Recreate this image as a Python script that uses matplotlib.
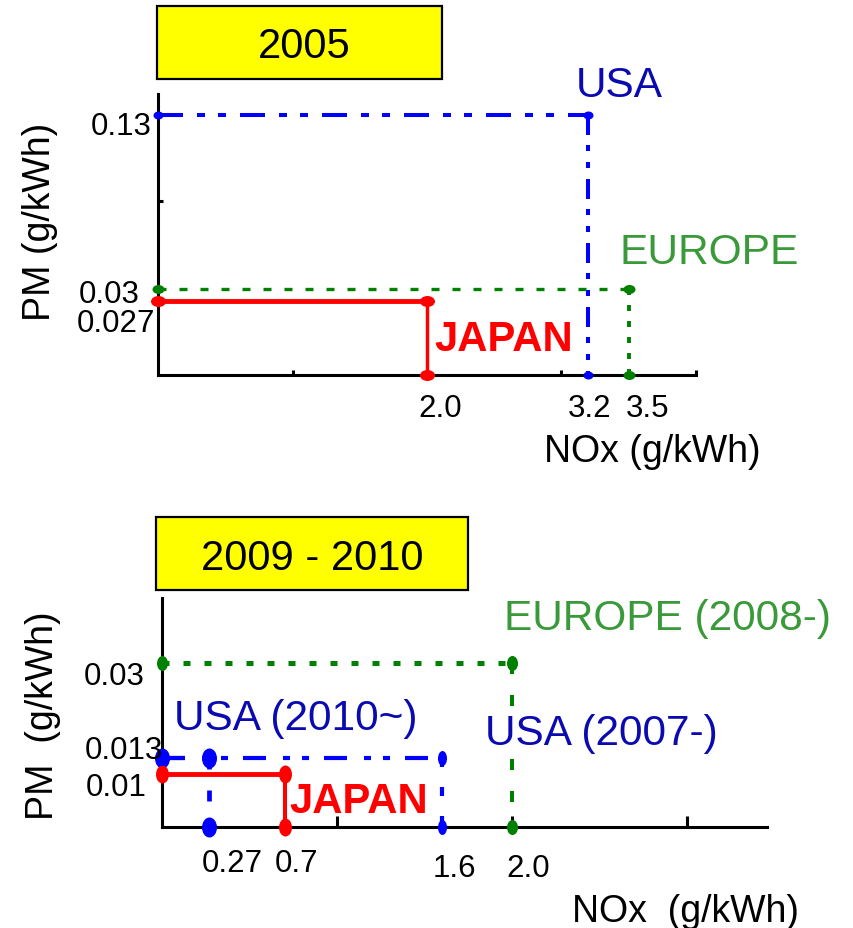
import matplotlib
matplotlib.use("Agg")
import matplotlib.pyplot as plt
from matplotlib.path import Path
from matplotlib.transforms import Affine2D
from matplotlib.patches import Rectangle
from matplotlib.ticker import NullLocator

plt.rcParams["font.family"] = ["Liberation Sans", "DejaVu Sans"]
plt.rcParams["lines.scale_dashes"] = False

# ---------------- emission limits (g/kWh) ----------------
# 2005 regulations
regions_2005 = ["JAPAN", "USA", "EUROPE"]
nox_2005 = [2.0, 3.2, 3.5]
pm_2005 = [0.027, 0.13, 0.03]
nox_labels_2005 = ["2.0", "3.2", "3.5"]
pm_labels_2005 = ["0.027", "0.13", "0.03"]

# 2009 - 2010 regulations
regions_2010 = ["USA (2010~)", "JAPAN", "USA (2007-)", "EUROPE (2008-)"]
nox_2010 = [0.27, 0.7, 1.6, 2.0]
pm_2010 = [0.013, 0.01, 0.013, 0.03]
nox_labels_2010 = ["0.27", "0.7", "1.6", "2.0"]
pm_labels_2010 = ["0.013", "0.01", None, "0.03"]

W, H, DPI = 854, 929, 100
fig = plt.figure(figsize=(W / DPI, H / DPI), dpi=DPI)


def fx(x):
    return x / W


def fy(y):
    return 1 - y / H


def ftext(x, y, s, **kw):
    return fig.text(fx(x), fy(y), s, **kw)


def ellipse(w, h):
    s = max(w, h)
    return Path.unit_circle().transformed(Affine2D().scale(w / s, h / s))


PT = 72 / DPI  # pixels -> points

BLUE, GREEN, RED = "#0000FF", "#008000", "#FF0000"
BLUE_TXT, GREEN_TXT = "#0A0AB0", "#3A9A3A"


def draw_limit(ax, nox, pm, color, hdash, vdash, hlw, vlw, mw, mh, zorder=3):
    floor = ax.get_ylim()[0]
    kw = dict(color=color, solid_capstyle="butt", dash_capstyle="butt",
              clip_on=False, zorder=zorder)
    lh, = ax.plot([0, nox], [pm, pm], lw=hlw, **kw)
    lv, = ax.plot([nox, nox], [pm, floor], lw=vlw, **kw)
    if hdash:
        lh.set_dashes([d * PT for d in hdash])
    if vdash:
        lv.set_dashes([d * PT for d in vdash])
    ax.plot([0, nox, nox], [pm, pm, floor], ls="none",
            marker=ellipse(mw, mh), ms=max(mw, mh) * PT,
            color=color, mec=color, mew=0, clip_on=False, zorder=zorder + 1)


def style_axes(ax):
    for side in ("top", "right"):
        ax.spines[side].set_visible(False)
    for side in ("left", "bottom"):
        ax.spines[side].set_linewidth(2.2)
        ax.spines[side].set_color("black")
        ax.spines[side].set_capstyle("projecting")
    ax.patch.set_alpha(0)


# ================= 2005 panel =================
ax1 = fig.add_axes([fx(158), fy(376), fx(696) - fx(158), fy(95) - fy(376)])
ax1.set_yscale("log")
ax1.set_xlim(0, 4)
ax1.set_ylim(0.01452, 0.1552)
style_axes(ax1)
ax1.set_xticks([1, 3, 4])
ax1.set_xticklabels([])
ax1.set_yticks([0.063])
ax1.set_yticklabels([])
ax1.yaxis.set_minor_locator(NullLocator())
ax1.tick_params(direction="in", length=5 * PT, width=2.2, color="black")

style_2005 = {
    "JAPAN": dict(color=RED, hdash=None, vdash=None, hlw=3.5, vlw=2.5, mw=15, mh=11),
    "USA": dict(color=BLUE, hdash=(25, 14, 8, 13, 8, 14), vdash=(20, 10, 6, 11, 6, 11),
                hlw=2.9, vlw=2.9, mw=10, mh=8),
    "EUROPE": dict(color=GREEN, hdash=(8, 13), vdash=(6, 10), hlw=2.4, vlw=2.8, mw=12, mh=9),
}
for reg, nx, pm in zip(regions_2005, nox_2005, pm_2005):
    draw_limit(ax1, nx, pm, **style_2005[reg])

# value labels along the axes
xlab_off_2005 = [(13, -41), (1, -41), (19, -41)]
for nx, lab, (dx, dy) in zip(nox_2005, nox_labels_2005, xlab_off_2005):
    ax1.annotate(lab, xy=(nx, 0), xycoords=("data", "axes fraction"),
                 xytext=(dx, dy), textcoords="offset pixels",
                 ha="center", va="baseline", fontsize=22.5, annotation_clip=False)
ylab_off_2005 = [(-3, -30), (-6, -19), (-18, -13)]
for pm, lab, (dx, dy) in zip(pm_2005, pm_labels_2005, ylab_off_2005):
    ax1.annotate(lab, xy=(0, pm), xycoords=("axes fraction", "data"),
                 xytext=(dx, dy), textcoords="offset pixels",
                 ha="right", va="baseline", fontsize=22.5, annotation_clip=False)

# ================= 2009 - 2010 panel =================
ax2 = fig.add_axes([fx(162), fy(828), fx(767) - fx(162), fy(599) - fy(828)])
ax2.set_xlim(0, 3.457)
ax2.set_ylim(0.0005, 0.0418)
style_axes(ax2)
ax2.set_xticks([1, 2, 3])
ax2.set_xticklabels([])
ax2.set_yticks([])
ax2.tick_params(axis="x", direction="in", length=11 * PT, width=2.2, color="black")

style_2010 = {
    "EUROPE (2008-)": dict(color=GREEN, hdash=(7, 14), vdash=(11, 21), hlw=3.6, vlw=2.9,
                           mw=11, mh=15),
    "USA (2007-)": dict(color=BLUE, hdash=(23, 17, 7, 12, 7, 15), vdash=(9, 20),
                        hlw=3.0, vlw=3.0, mw=9, mh=15),
    "USA (2010~)": dict(color=BLUE, hdash=(23, 17, 7, 12, 7, 15), vdash=(11, 21),
                        hlw=3.0, vlw=3.4, mw=15, mh=20),
    "JAPAN": dict(color=RED, hdash=None, vdash=None, hlw=3.5, vlw=2.9, mw=13, mh=18),
}
for reg, nx, pm in zip(regions_2010, nox_2010, pm_2010):
    draw_limit(ax2, nx, pm, **style_2010[reg])

xlab_off_2010 = [(23, -44), (12, -44), (12, -49), (16, -49)]
for nx, lab, (dx, dy) in zip(nox_2010, nox_labels_2010, xlab_off_2010):
    ax2.annotate(lab, xy=(nx, 0), xycoords=("data", "axes fraction"),
                 xytext=(dx, dy), textcoords="offset pixels",
                 ha="center", va="baseline", fontsize=22.5, annotation_clip=False)
ylab_off_2010 = [(1, 0), (-15, -21), None, (-17, -21)]
for pm, lab, off in zip(pm_2010, pm_labels_2010, ylab_off_2010):
    if lab is None:
        continue
    ax2.annotate(lab, xy=(0, pm), xycoords=("axes fraction", "data"),
                 xytext=off, textcoords="offset pixels",
                 ha="right", va="baseline", fontsize=22.5, annotation_clip=False,
                 zorder=6)

# ================= titles =================
for (x0, y0, x1, y1), title, cx, base in [
    ((157, 7, 442, 80), "2005", 304, 58),
    ((156, 518, 468, 591), "2009 - 2010", 312, 570),
]:
    fig.add_artist(Rectangle((fx(x0), fy(y1)), fx(x1) - fx(x0), fy(y0) - fy(y1),
                             transform=fig.transFigure, facecolor="#FFFF00",
                             edgecolor="black", linewidth=1.6))
    ftext(cx, base, title, ha="center", va="baseline", fontsize=30)

# ================= region names =================
names_2005 = {
    "USA": dict(pos=(576, 97), color=BLUE_TXT, weight="normal", size=30.5),
    "EUROPE": dict(pos=(620, 264), color=GREEN_TXT, weight="normal", size=30.6),
    "JAPAN": dict(pos=(434, 351), color=RED, weight="bold", size=30.2),
}
names_2010 = {
    "EUROPE (2008-)": dict(pos=(504, 630), color=GREEN_TXT, weight="normal", size=30.5),
    "USA (2010~)": dict(pos=(174, 730), color=BLUE_TXT, weight="normal", size=30.5),
    "USA (2007-)": dict(pos=(485, 745), color=BLUE_TXT, weight="normal", size=30.5,
                        bbox=dict(facecolor="white", edgecolor="none", pad=1)),
    "JAPAN": dict(pos=(289, 813), color=RED, weight="bold", size=30.2),
}
for names in (names_2005, names_2010):
    for reg, st in names.items():
        x, y = st["pos"]
        t = ftext(x, y, reg, ha="left", va="baseline", color=st["color"],
                  fontsize=st["size"], fontweight=st["weight"], zorder=7)
        if "bbox" in st:
            t.set_bbox(st["bbox"])

# ================= axis titles =================
ftext(544, 462, "NOx (g/kWh)", ha="left", va="baseline", fontsize=27)
ftext(40, 222, "PM (g/kWh)", ha="center", va="center", rotation=90, fontsize=27)
ftext(572, 922, "NOx  (g/kWh)", ha="left", va="baseline", fontsize=27)
ftext(43.5, 716, "PM  (g/kWh)", ha="center", va="center", rotation=90, fontsize=27)

fig.savefig("out.png", dpi=DPI)
